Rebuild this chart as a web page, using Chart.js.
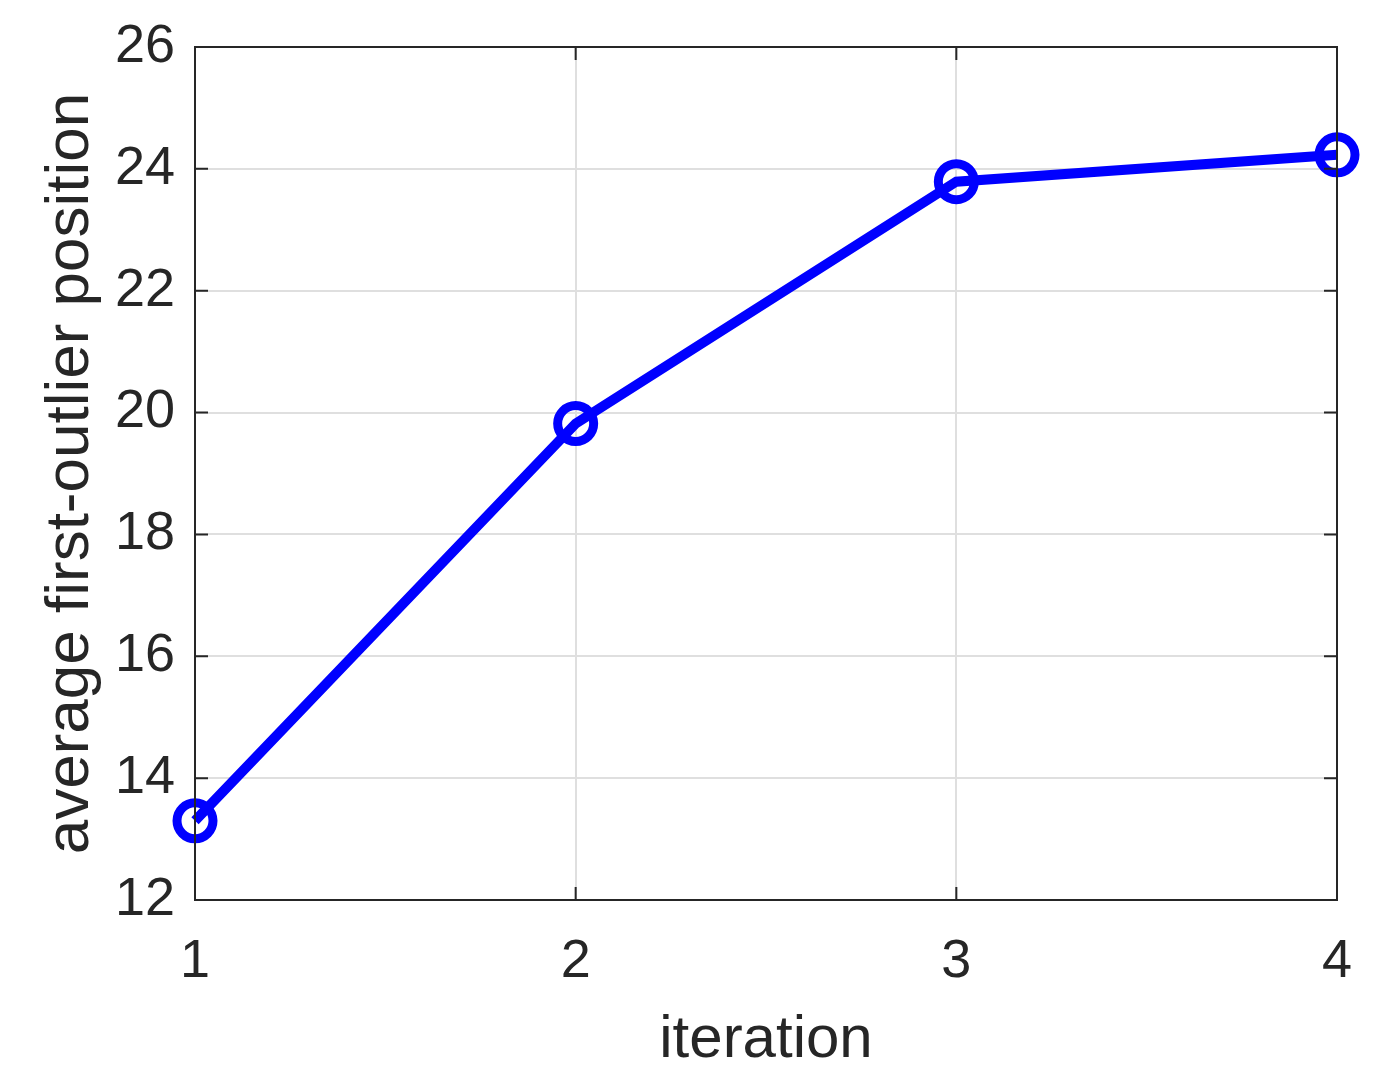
<!DOCTYPE html>
<html>
<head>
<meta charset="utf-8">
<script src="https://cdn.jsdelivr.net/npm/chart.js@4"></script>
<style>
  body { margin: 0; background: #fff; }
  #wrap { width: 1382px; height: 1090px; }
</style>
</head>
<body>
<div id="wrap"><canvas id="chart" width="1382" height="1090"></canvas></div>
<script>
const iterations = [1, 2, 3, 4];
const firstOutlierPos = [13.3, 19.82, 23.79, 24.23];
const yTicks = [12, 14, 16, 18, 20, 22, 24, 26];
const xTicks = [1, 2, 3, 4];

const axisColor = '#262626';
const fontFamily = 'Liberation Sans, Arial, Helvetica, sans-serif';

// MATLAB-style box with inward ticks on every side
const boxPlugin = {
    id: 'box',
    afterDraw(chart) {
        const ctx = chart.ctx;
        const a = chart.chartArea;
        const xs = chart.scales.x, ys = chart.scales.y;
        const len = 13;
        ctx.save();
        ctx.strokeStyle = axisColor;
        ctx.lineWidth = 2;
        ctx.strokeRect(a.left, a.top, a.right - a.left, a.bottom - a.top);
        ctx.beginPath();
        yTicks.forEach(v => {
            const y = ys.getPixelForValue(v);
            ctx.moveTo(a.left, y); ctx.lineTo(a.left + len, y);
            ctx.moveTo(a.right, y); ctx.lineTo(a.right - len, y);
        });
        xTicks.forEach(v => {
            const x = xs.getPixelForValue(v);
            ctx.moveTo(x, a.bottom); ctx.lineTo(x, a.bottom - len);
            ctx.moveTo(x, a.top); ctx.lineTo(x, a.top + len);
        });
        ctx.stroke();
        ctx.restore();
    }
};

new Chart(document.getElementById('chart'), {
    type: 'line',
    data: {
        datasets: [{
            data: iterations.map((x, i) => ({ x: x, y: firstOutlierPos[i] })),
            borderColor: '#0000ff',
            borderWidth: 10,
            pointRadius: 18,
            pointBorderWidth: 9,
            pointBorderColor: '#0000ff',
            pointBackgroundColor: 'rgba(0,0,0,0)',
            tension: 0,
            clip: false
        }]
    },
    options: {
        responsive: false,
        animation: false,
        layout: { autoPadding: false, padding: { top: 47, right: 45, left: 0, bottom: 0 } },
        plugins: { legend: { display: false }, tooltip: { enabled: false } },
        scales: {
            x: {
                type: 'linear',
                min: 1, max: 4,
                afterFit(s) { s.height = 190; s.paddingLeft = 0; s.paddingRight = 0; },
                afterBuildTicks(s) { s.ticks = xTicks.map(v => ({ value: v })); },
                grid: { color: '#dfdfdf', lineWidth: 2, drawTicks: false },
                border: { display: false },
                ticks: { color: axisColor, font: { family: fontFamily, size: 54 }, padding: 30, maxRotation: 0 },
                title: { display: true, text: 'iteration', color: axisColor, font: { family: fontFamily, size: 60 }, padding: { top: 4, bottom: 14 } }
            },
            y: {
                min: 12, max: 26,
                afterFit(s) { s.width = 195; s.paddingTop = 0; s.paddingBottom = 0; },
                afterBuildTicks(s) { s.ticks = yTicks.map(v => ({ value: v })); },
                grid: { color: '#dfdfdf', lineWidth: 2, drawTicks: false },
                border: { display: false },
                ticks: { color: axisColor, font: { family: fontFamily, size: 54 }, padding: 20 },
                title: { display: true, text: 'average first-outlier position', color: axisColor, font: { family: fontFamily, size: 62 }, padding: { top: 34 } }
            }
        }
    },
    plugins: [boxPlugin]
});
</script>
</body>
</html>
